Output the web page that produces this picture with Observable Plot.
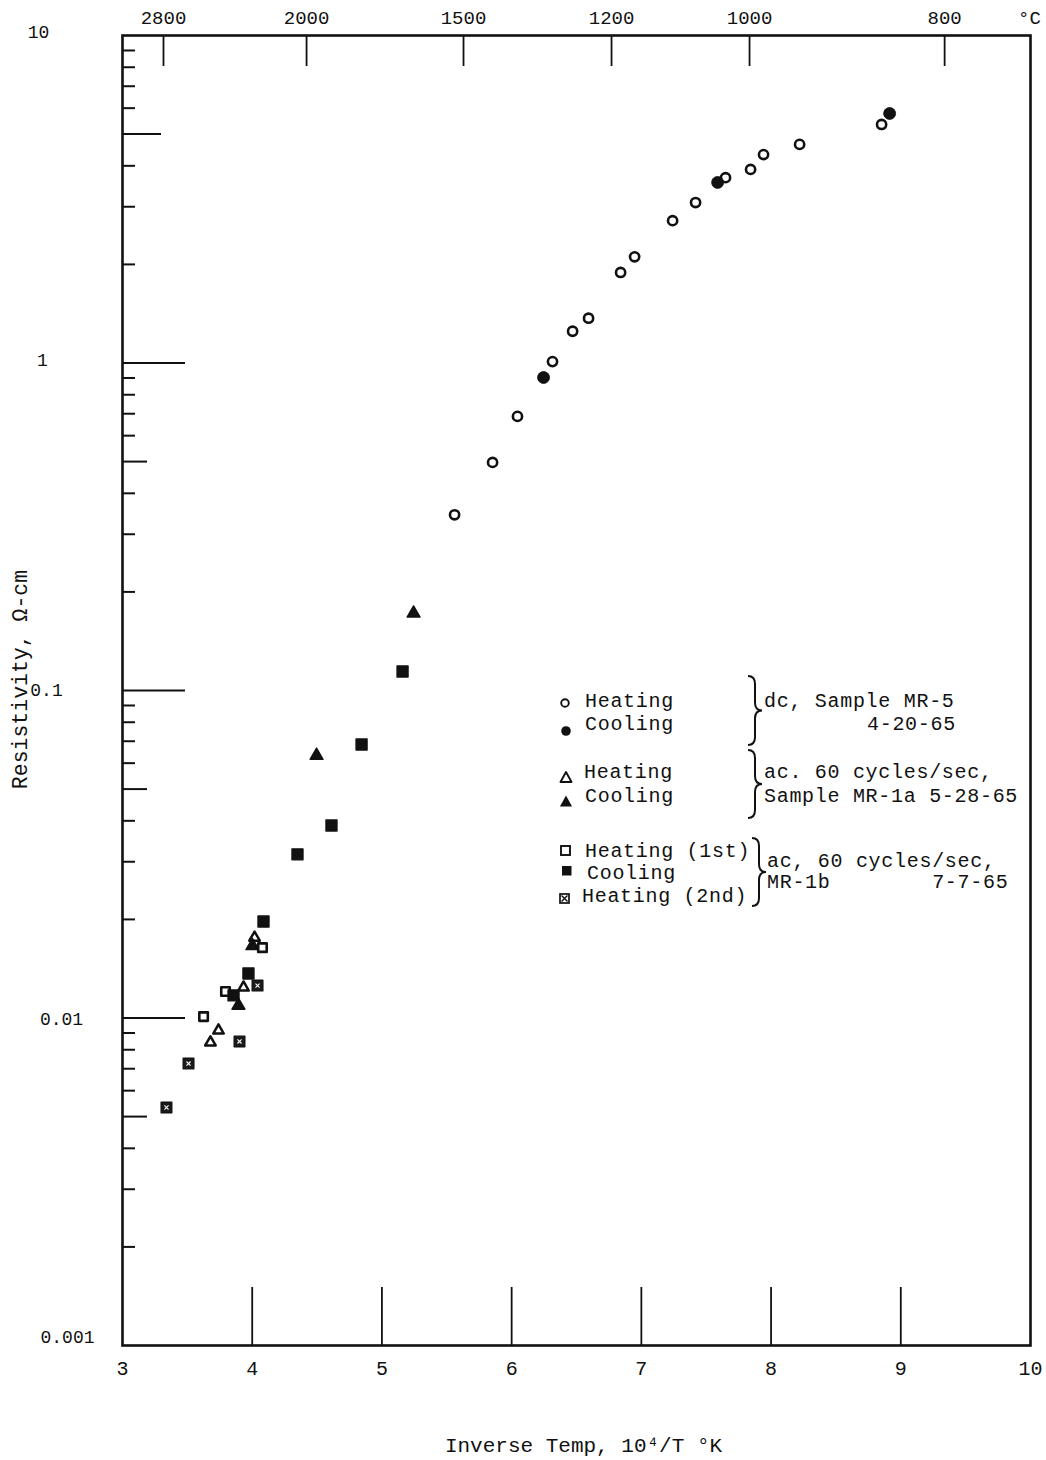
<!DOCTYPE html>
<html><head><meta charset="utf-8">
<script src="https://cdn.jsdelivr.net/npm/d3@7"></script>
<script src="https://cdn.jsdelivr.net/npm/@observablehq/plot@0.6"></script>
<style>
html,body{margin:0;padding:0;background:#fff;}
#wrap{position:relative;width:1046px;height:1460px;font-family:"Liberation Mono",monospace;color:#111;}
#legend{position:absolute;left:0;top:0;width:1046px;height:1460px;pointer-events:none;}
.lt{position:absolute;font-size:20px;letter-spacing:0.7px;line-height:22px;white-space:pre;}
</style></head><body><div id="wrap"></div>
<script>
// ---- data ----
const dcHeatingX = [8.852, 8.22, 7.942, 7.842, 7.649, 7.418, 7.241, 6.948, 6.840, 6.593, 6.470, 6.315, 6.045, 5.853, 5.560];
const dcHeatingY = [5.35, 4.65, 4.33, 3.90, 3.68, 3.09, 2.72, 2.11, 1.89, 1.37, 1.25, 1.01, 0.687, 0.497, 0.344];
const dcCoolingX = [8.914, 7.588, 6.246];
const dcCoolingY = [5.78, 3.56, 0.903];
const mr1aHeatingX = [4.018, 3.933, 3.740, 3.678];
const mr1aHeatingY = [0.0176, 0.01239, 0.00916, 0.00842];
const mr1aCoolingX = [5.244, 4.496, 4.002, 3.894];
const mr1aCoolingY = [0.172, 0.0633, 0.0166, 0.01092];
const mr1bHeating1X = [4.079, 3.794, 3.625];
const mr1bHeating1Y = [0.0164, 0.01205, 0.0101];
const mr1bCoolingX = [5.159, 4.843, 4.611, 4.349, 4.087, 3.971, 3.856];
const mr1bCoolingY = [0.1143, 0.0684, 0.0387, 0.0316, 0.0197, 0.01368, 0.01172];
const mr1bHeating2X = [4.041, 3.902, 3.509, 3.339];
const mr1bHeating2Y = [0.01256, 0.00848, 0.00726, 0.00533];

// ---- ticks ----
const xTickLabels = [3, 4, 5, 6, 7, 8, 9, 10];
const xInnerTicks = [4, 5, 6, 7, 8, 9];
const celsiusLabels = ["2800", "2000", "1500", "1200", "1000", "800"];
const celsiusTickX = [3.316, 4.419, 5.629, 6.770, 7.834, 9.338];
const yMinorTicks = [0.002, 0.003, 0.004, 0.006, 0.007, 0.008, 0.009,
  0.02, 0.03, 0.04, 0.06, 0.07, 0.08, 0.09,
  0.2, 0.3, 0.4, 0.6, 0.7, 0.8, 0.9,
  2, 3, 4, 6, 7, 8, 9];
const yMidTicks = [0.005, 0.05, 0.5];
const yTopMidTicks = [5];
const yMajorTicks = [0.01, 0.1, 1];
const yLabelValues = [10, 1, 0.1, 0.01, 0.001];
const yLabelTexts = ["10", "1", "0.1", "0.01", "0.001"];

// ---- layout ----
const W = 1046, H = 1460, mL = 122, mT = 35, mR = 16, mB = 115;
const innerW = W - mL - mR, innerH = H - mT - mB;
const yLabelDx = [-84, -80, -76, -61, -55];
const yLabelDy = [-3, -3, 0, 1, -8];
const ink = "#111";

const yLabelMarks = yLabelValues.map((v, i) =>
  Plot.text([v], {y: d => d, text: () => yLabelTexts[i], frameAnchor: "left",
    dx: yLabelDx[i], dy: yLabelDy[i], fontSize: 18, fill: ink, textAnchor: "middle", lineAnchor: "middle"}));

const chart = Plot.plot({
  width: W, height: H,
  marginLeft: mL, marginTop: mT, marginRight: mR, marginBottom: mB,
  style: {fontFamily: "'Liberation Mono', monospace", background: "white", color: ink},
  x: {domain: [3, 10], axis: null},
  y: {type: "log", domain: [0.001, 10], axis: null},
  marks: [
    // left ticks
    Plot.tickY(yMinorTicks, {y: d => d, insetRight: innerW - 13, stroke: ink, strokeWidth: 2}),
    Plot.tickY(yMidTicks, {y: d => d, insetRight: innerW - 25, stroke: ink, strokeWidth: 2}),
    Plot.tickY(yTopMidTicks, {y: d => d, insetRight: innerW - 39, stroke: ink, strokeWidth: 2}),
    Plot.tickY(yMajorTicks, {y: d => d, insetRight: innerW - 63, stroke: ink, strokeWidth: 2}),
    // bottom ticks
    Plot.tickX(xInnerTicks, {x: d => d, insetTop: innerH - 58, stroke: ink, strokeWidth: 1.8}),
    // top (°C) ticks
    Plot.tickX(celsiusTickX, {x: d => d, insetBottom: innerH - 31, stroke: ink, strokeWidth: 1.8}),
    Plot.frame({stroke: ink, strokeWidth: 2.6}),
    // tick labels
    Plot.text(xTickLabels, {x: d => d, text: d => String(d), frameAnchor: "bottom", lineAnchor: "middle", dy: 23, fontSize: 20, fill: ink}),
    Plot.text(celsiusTickX, {x: d => d, text: (d, i) => celsiusLabels[i], frameAnchor: "top", lineAnchor: "middle", dy: -18, fontSize: 19, fill: ink}),
    Plot.text([10], {x: d => d, text: () => "°C", frameAnchor: "top", lineAnchor: "middle", dy: -18, dx: -1, fontSize: 19, fill: ink}),
    ...yLabelMarks,
    // axis titles
    Plot.text(["Inverse Temp, 10⁴/T °K"], {text: d => d, frameAnchor: "bottom", lineAnchor: "middle", textAnchor: "middle", dy: 100, dx: 7, fontSize: 21, fill: ink}),
    Plot.text(["Resistivity, Ω-cm"], {text: d => d, frameAnchor: "left", textAnchor: "middle", lineAnchor: "middle", rotate: -90, dx: -102, dy: -11, fontSize: 21.5, fill: ink}),
    // data: dc sample MR-5
    Plot.dot(dcHeatingY, {x: dcHeatingX, y: dcHeatingY, symbol: "circle", r: 4.6, stroke: ink, strokeWidth: 2.6, fill: "white"}),
    Plot.dot(dcCoolingY, {x: dcCoolingX, y: dcCoolingY, symbol: "circle", r: 6.0, fill: ink, stroke: ink, strokeWidth: 0.8}),
    // ac sample MR-1a
    Plot.dot(mr1aHeatingY, {x: mr1aHeatingX, y: mr1aHeatingY, symbol: "triangle", r: 3.9, stroke: ink, strokeWidth: 2.5, fill: "white", strokeLinejoin: "round"}),
    Plot.dot(mr1aCoolingY, {x: mr1aCoolingX, y: mr1aCoolingY, symbol: "triangle", r: 4.8, fill: ink, stroke: ink, strokeWidth: 1.4, strokeLinejoin: "round"}),
    // ac MR-1b
    Plot.dot(mr1bHeating1Y, {x: mr1bHeating1X, y: mr1bHeating1Y, symbol: "square", r: 4.8, stroke: ink, strokeWidth: 2.6, fill: "white", strokeLinejoin: "round"}),
    Plot.dot(mr1bCoolingY, {x: mr1bCoolingX, y: mr1bCoolingY, symbol: "square", r: 6.2, fill: ink, stroke: ink, strokeWidth: 1.4, strokeLinejoin: "round"}),
    Plot.dot(mr1bHeating2Y, {x: mr1bHeating2X, y: mr1bHeating2Y, symbol: "square", r: 6.0, fill: "#1a1a1a", stroke: ink, strokeWidth: 1.4, strokeLinejoin: "round"}),
    Plot.dot(mr1bHeating2Y, {x: mr1bHeating2X, y: mr1bHeating2Y, symbol: "times", r: 2.0, stroke: "white", strokeWidth: 1.1})
  ]
});

const wrap = document.getElementById("wrap");
wrap.appendChild(chart);

// ---- legend (overlay) ----
function brace(x, top, bottom, tip) {
  const mid = (top + bottom) / 2, w = tip - x, q = 8;
  return `<path d="M${x} ${top} q${w/2} 0 ${w/2} ${q} V${mid - q} q0 ${q} ${w/2} ${q} q${-w/2} 0 ${-w/2} ${q} V${bottom - q} q0 ${q} ${-w/2} ${q}" fill="none" stroke="${ink}" stroke-width="2"/>`;
}
const tri = (cx, cy, s) => `${cx},${cy - s * 0.6} ${cx + s * 0.55},${cy + s * 0.4} ${cx - s * 0.55},${cy + s * 0.4}`;
const legendSvg = `<svg width="${W}" height="${H}" style="position:absolute;left:0;top:0">
  <circle cx="565" cy="703" r="3.8" fill="none" stroke="${ink}" stroke-width="1.9"/>
  <circle cx="566" cy="731" r="4.8" fill="${ink}"/>
  <polygon points="${tri(566, 778, 10)}" fill="none" stroke="${ink}" stroke-width="1.9" stroke-linejoin="round"/>
  <polygon points="${tri(566, 802, 11)}" fill="${ink}"/>
  <rect x="561" y="846" width="9" height="9" fill="none" stroke="${ink}" stroke-width="1.9"/>
  <rect x="562" y="866" width="9.5" height="9.5" fill="${ink}"/>
  <rect x="560" y="894" width="9" height="9" fill="none" stroke="${ink}" stroke-width="1.7"/>
  <path d="M561.5 895.5 L567.5 901.5 M567.5 895.5 L561.5 901.5" stroke="${ink}" stroke-width="1.4"/>
  ${brace(748, 676, 745, 762)}
  ${brace(748, 750, 818, 762)}
  ${brace(752, 838, 906, 766)}
</svg>`;
const legendTexts = [
  ["Heating", 585, 703], ["Cooling", 585, 726],
  ["dc, Sample MR-5", 764, 703], ["4-20-65", 867, 726],
  ["Heating", 584, 774], ["Cooling", 585, 798],
  ["ac. 60 cycles/sec,", 764, 774], ["Sample MR-1a 5-28-65", 764, 798],
  ["Heating (1st)", 585, 853], ["Cooling", 587, 875], ["Heating (2nd)", 582, 898],
  ["ac, 60 cycles/sec,", 767, 863], ["MR-1b        7-7-65", 767, 884]
];
const legend = document.createElement("div");
legend.id = "legend";
legend.innerHTML = legendSvg + legendTexts.map(([t, x, y]) =>
  `<div class="lt" style="left:${x}px;top:${y - 12}px">${t}</div>`).join("");
wrap.appendChild(legend);
</script></body></html>
